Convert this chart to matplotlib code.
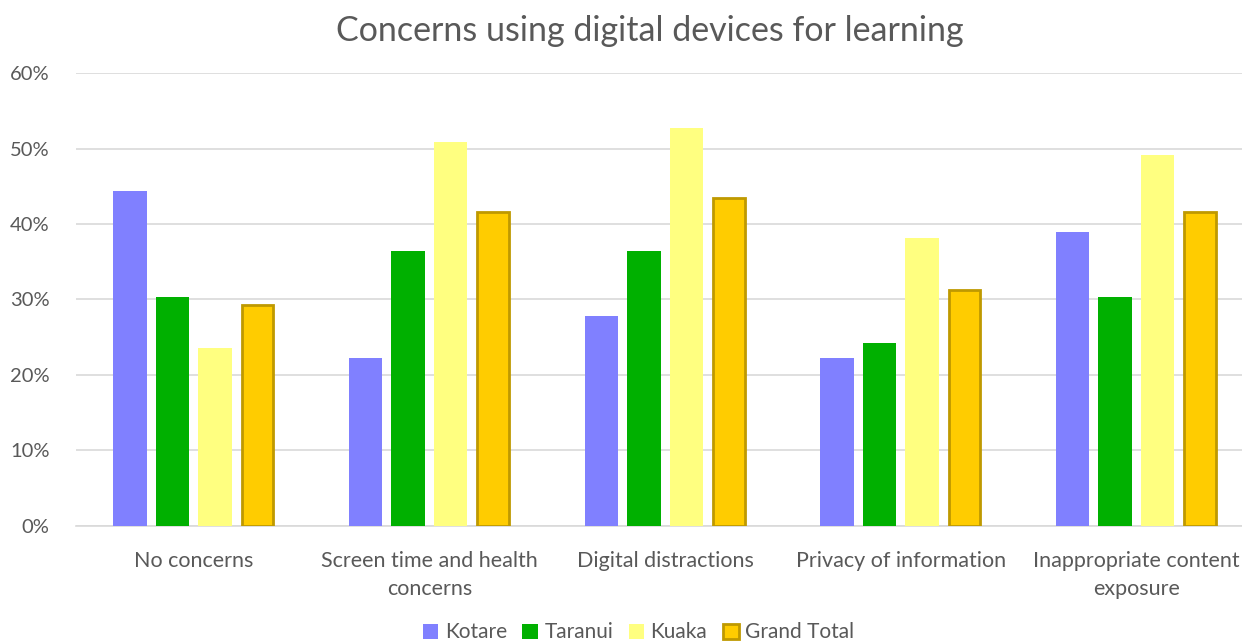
import matplotlib.pyplot as plt
import numpy as np
from matplotlib.ticker import FuncFormatter

categories = ["No concerns", "Screen time and health\nconcerns", "Digital distractions",
              "Privacy of information", "Inappropriate content\nexposure"]
kotare = [44.4, 22.2, 27.8, 22.2, 38.9]
taranui = [30.3, 36.4, 36.4, 24.2, 30.3]
kuaka = [23.6, 50.9, 52.7, 38.2, 49.1]
grand_total = [29.3, 41.6, 43.5, 31.2, 41.6]

series_names = ["Kotare", "Taranui", "Kuaka", "Grand Total"]
series_values = [kotare, taranui, kuaka, grand_total]
fills = ["#8080FF", "#00B000", "#FFFF80", "#FFCC00"]
edges = [None, None, None, "#BF9900"]

plt.rcParams['font.family'] = ['Lato', 'DejaVu Sans']
text_color = "#595959"

fig = plt.figure(figsize=(12.42, 6.44), dpi=100)
ax = fig.add_axes([0.0612, 0.1837, 0.9485, 0.7025])

x = np.arange(len(categories))
step = 0.1804
width = 0.142
for i, (name, vals, fc, ec) in enumerate(zip(series_names, series_values, fills, edges)):
    offs = (i - 1.5) * step
    if ec:
        ax.bar(x + offs, vals, width=width - 0.008, color=fc, edgecolor=ec,
               linewidth=2, label=name, zorder=3)
    else:
        ax.bar(x + offs, vals, width=width, color=fc, label=name, zorder=3)

ax.set_xlim(-0.5, len(categories) - 0.5)
ax.set_ylim(0, 60)
ax.set_yticks(np.arange(0, 61, 10))
ax.yaxis.set_major_formatter(FuncFormatter(lambda v, p: f"{int(v)}%"))
ax.grid(axis='y', color="#D9D9D9", linewidth=1.2, zorder=0)
for s in ["top", "right", "left"]:
    ax.spines[s].set_visible(False)
ax.spines["bottom"].set_color("#D9D9D9")
ax.spines["bottom"].set_linewidth(1.2)
ax.tick_params(axis='y', length=0, labelsize=14.5, colors=text_color, pad=19)
ax.tick_params(axis='x', length=0, labelsize=15.5, colors=text_color, pad=18)
ax.set_xticks(x)
ax.set_xticklabels(categories, linespacing=1.55)

fig.text(0.523, 0.952, "Concerns using digital devices for learning", ha='center', va='center',
         fontsize=24.5, color=text_color)

leg = fig.legend(loc='center', bbox_to_anchor=(0.514, 0.018), ncol=4, frameon=False,
                 fontsize=15, handlelength=0.75, handleheight=0.75, handletextpad=0.3,
                 columnspacing=0.75, labelcolor=text_color)

fig.savefig("out.png", dpi=100)
